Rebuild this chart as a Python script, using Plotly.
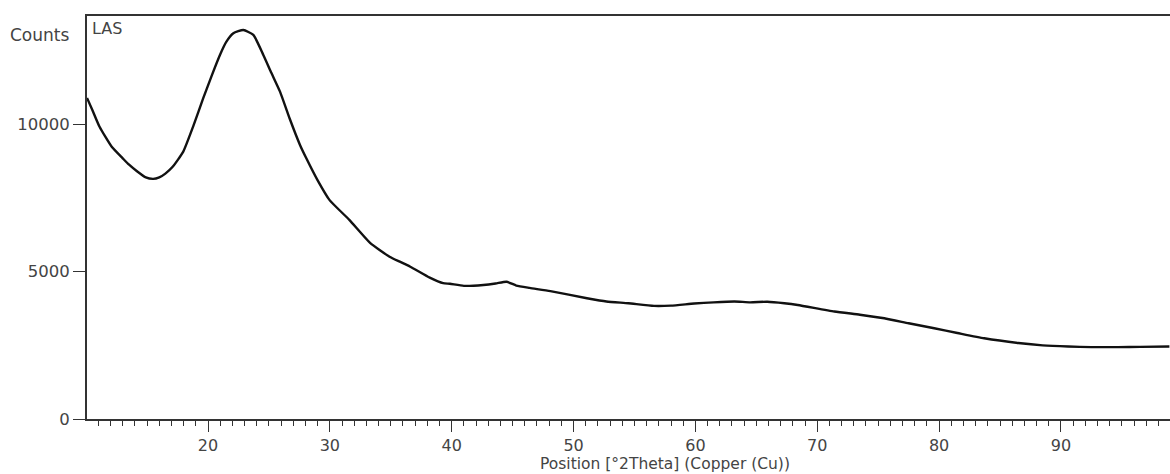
import plotly.graph_objects as go

# 2Theta positions (degrees) and counts
two_theta = [10.07, 10.5, 11.1, 12.1, 13.0, 13.5, 14.2, 14.9, 15.5, 16.0, 16.5, 17.1, 17.97,
             18.8, 19.61, 20.3, 20.98, 21.5, 22.08, 22.9, 23.72, 24.54, 25.2, 25.91, 26.7,
             27.55, 28.07, 29.0, 29.98, 31.6, 33.3, 34.9, 35.74, 36.6, 38.2, 39.3, 39.85, 41.0,
             42.6, 43.6, 44.5, 45.3, 46.4, 48.1, 51.1, 52.7, 54.5, 56.6, 58.0, 59.9,
             61.5, 63.2, 64.5, 65.9, 67.3, 68.4, 71.4, 73.5, 75.5, 77.5, 79.6, 81.5,
             83.7, 86.5, 88.5, 90.6, 92.5, 94.7, 96.5, 98.9]
counts = [10900, 10500, 9920, 9240, 8850, 8640, 8400, 8200, 8150, 8200, 8330, 8560, 9077,
          9950, 10890, 11650, 12357, 12800, 13093, 13205, 13036, 12357, 11750, 11112, 10200,
          9304, 8850, 8100, 7430, 6760, 5980, 5510, 5340, 5170, 4800, 4610, 4590, 4520,
          4550, 4600, 4660, 4530, 4450, 4340, 4100, 3990, 3930, 3840, 3850, 3920,
          3960, 3990, 3960, 3980, 3930, 3870, 3650, 3540, 3420, 3250, 3080, 2920,
          2740, 2580, 2500, 2460, 2440, 2440, 2450, 2460]

x_ticks = [20, 30, 40, 50, 60, 70, 80, 90]
y_ticks = [0, 5000, 10000]

font_family = "DejaVu Sans, Open Sans, sans-serif"
axis_color = "#333333"
text_color = "#444444"

fig = go.Figure()
fig.add_trace(go.Scatter(
    x=two_theta, y=counts, mode="lines",
    line=dict(color="#111111", width=2.4, shape="spline", smoothing=0.5),
    hoverinfo="skip", showlegend=False,
))

fig.update_layout(
    width=1170, height=474,
    margin=dict(l=87, r=0, t=16, b=55),
    paper_bgcolor="white", plot_bgcolor="white",
    font=dict(family=font_family, size=16, color=text_color),
    xaxis=dict(
        range=[10.07, 98.95],
        tickvals=x_ticks, ticktext=[str(v) for v in x_ticks],
        ticks="outside", ticklen=11, tickwidth=1.2, tickcolor=axis_color,
        minor=dict(dtick=1, tick0=0, ticks="outside", ticklen=5, tickwidth=1, tickcolor=axis_color),
        showline=True, linecolor=axis_color, linewidth=1.8, mirror=True,
        showgrid=False, zeroline=False,
        tickfont=dict(size=16, color=text_color),
    ),
    yaxis=dict(
        range=[0, 13680],
        tickvals=y_ticks, ticktext=[str(v) for v in y_ticks],
        ticks="outside", ticklen=12, tickwidth=1.2, tickcolor=axis_color,
        showline=True, linecolor=axis_color, linewidth=1.8, mirror=False,
        showgrid=False, zeroline=False,
        tickfont=dict(size=16.5, color=text_color),
    ),
    annotations=[
        dict(text="Position [°2Theta] (Copper (Cu))", xref="paper", yref="paper",
             x=0.534, y=-0.111, xanchor="center", yanchor="middle", showarrow=False,
             font=dict(size=15.5, color=text_color)),
        dict(text="Counts", xref="paper", yref="paper", x=-0.0148, y=0.953,
             xanchor="right", yanchor="middle", showarrow=False,
             font=dict(size=17, color=text_color)),
        dict(text="LAS", xref="paper", yref="paper", x=0.003, y=0.997,
             xanchor="left", yanchor="top", showarrow=False,
             font=dict(size=16, color=text_color)),
    ],
)

fig.write_html("out.html")
